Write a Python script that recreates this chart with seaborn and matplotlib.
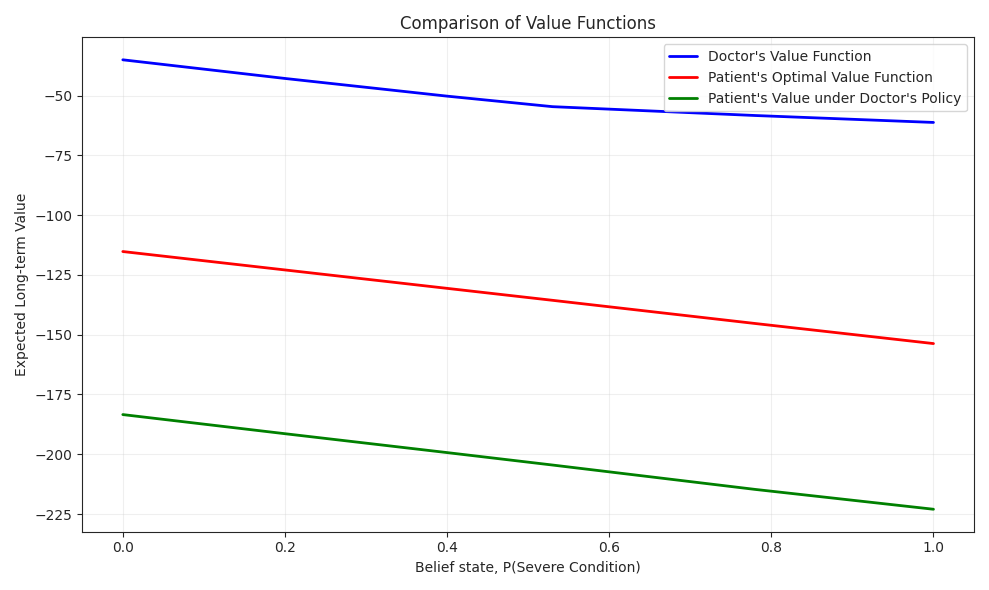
import matplotlib
matplotlib.use("Agg")
import matplotlib.pyplot as plt
import seaborn as sns
import pandas as pd

belief = [0.0, 0.2, 0.4, 0.53, 0.78, 1.0]
doctor = [-35.0, -42.8, -50.2, -54.6, -58.3, -61.2]
patient_opt = [-115.2, -122.9, -130.6, -135.6, -145.3, -153.7]
patient_doc = [-183.4, -191.4, -199.3, -204.5, -214.7, -223.0]

sns.set_style("ticks")
fig, ax = plt.subplots(figsize=(9.89, 5.9), dpi=100)
df = pd.DataFrame({"b": belief, "d": doctor, "p": patient_opt, "g": patient_doc})
sns.lineplot(data=df, x="b", y="d", color="blue", lw=2, label="Doctor's Value Function", ax=ax)
sns.lineplot(data=df, x="b", y="p", color="red", lw=2, label="Patient's Optimal Value Function", ax=ax)
sns.lineplot(data=df, x="b", y="g", color="green", lw=2, label="Patient's Value under Doctor's Policy", ax=ax)
ax.set_xlabel("Belief state, P(Severe Condition)")
ax.set_ylabel("Expected Long-term Value")
ax.set_title("Comparison of Value Functions")
ax.grid(True, alpha=0.3)
ax.legend(loc="upper right")
fig.tight_layout()
fig.savefig("out.png")
